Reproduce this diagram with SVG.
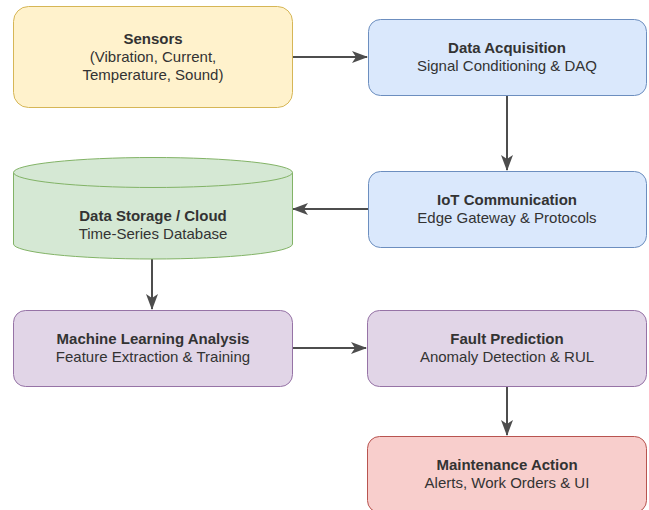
<svg xmlns="http://www.w3.org/2000/svg" width="649" height="510" viewBox="0 0 649 510">
  <style>
    .t { font-family: "Liberation Sans", Arial, sans-serif; font-size: 15px; fill: #333333; text-anchor: middle; }
    .b { font-weight: bold; }
    .edge { stroke: #4d4d4d; stroke-width: 2; fill: none; marker-end: url(#arrow); }
    .yellow { fill: #fff2cc; stroke: #d6b656; stroke-width: 1; }
    .blue { fill: #dae8fc; stroke: #6c8ebf; stroke-width: 1; }
    .green { fill: #d5e8d4; stroke: #82b366; stroke-width: 1; }
    .purple { fill: #e1d5e7; stroke: #9673a6; stroke-width: 1; }
    .red { fill: #f8cecc; stroke: #b85450; stroke-width: 1; }
  </style>
  <defs>
    <!-- classic notched arrowhead, sized in user units -->
    <marker id="arrow" viewBox="0 0 16 12" refX="15" refY="6" markerWidth="16" markerHeight="12" markerUnits="userSpaceOnUse" orient="auto">
      <path d="M0,0 L16,6 L0,12 L4,6 Z" fill="#4d4d4d"/>
    </marker>
  </defs>
  <rect width="649" height="510" fill="#ffffff"/>

  <g id="connectors">
    <line class="edge" x1="292" y1="57" x2="367" y2="57"/>
    <line class="edge" x1="507" y1="95" x2="507" y2="170"/>
    <line class="edge" x1="368" y1="209" x2="293" y2="209"/>
    <line class="edge" x1="152" y1="259" x2="152" y2="309"/>
    <line class="edge" x1="292" y1="348" x2="366" y2="348"/>
    <line class="edge" x1="507" y1="386" x2="507" y2="435"/>
  </g>

  <g id="sensors">
    <rect class="yellow" x="13.5" y="6.5" width="279" height="101" rx="15"/>
    <text class="t b" x="153" y="44">Sensors</text>
    <text class="t" x="153" y="62">(Vibration, Current,</text>
    <text class="t" x="153" y="80">Temperature, Sound)</text>
  </g>

  <g id="data-acquisition">
    <rect class="blue" x="368.5" y="19.5" width="278" height="76" rx="12"/>
    <text class="t b" x="507" y="53">Data Acquisition</text>
    <text class="t" x="507" y="71">Signal Conditioning &amp; DAQ</text>
  </g>

  <g id="iot-communication">
    <rect class="blue" x="368.5" y="171.5" width="278" height="76" rx="12"/>
    <text class="t b" x="507" y="205">IoT Communication</text>
    <text class="t" x="507" y="223">Edge Gateway &amp; Protocols</text>
  </g>

  <g id="data-storage">
    <path class="green" d="M13.5,172.5 A139.5,15 0 0 1 292.5,172.5 L292.5,244 A139.5,15 0 0 1 13.5,244 Z"/>
    <path class="green" d="M13.5,172.5 A139.5,15 0 0 0 292.5,172.5" fill="none"/>
    <text class="t b" x="153" y="221">Data Storage / Cloud</text>
    <text class="t" x="153" y="239">Time-Series Database</text>
  </g>

  <g id="ml-analysis">
    <rect class="purple" x="13.5" y="310.5" width="279" height="76" rx="12"/>
    <text class="t b" x="153" y="344">Machine Learning Analysis</text>
    <text class="t" x="153" y="362">Feature Extraction &amp; Training</text>
  </g>

  <g id="fault-prediction">
    <rect class="purple" x="367.5" y="310.5" width="279" height="76" rx="12"/>
    <text class="t b" x="507" y="344">Fault Prediction</text>
    <text class="t" x="507" y="362">Anomaly Detection &amp; RUL</text>
  </g>

  <g id="maintenance-action">
    <rect class="red" x="367.5" y="436.5" width="279" height="76" rx="12"/>
    <text class="t b" x="507" y="470">Maintenance Action</text>
    <text class="t" x="507" y="488">Alerts, Work Orders &amp; UI</text>
  </g>
</svg>
